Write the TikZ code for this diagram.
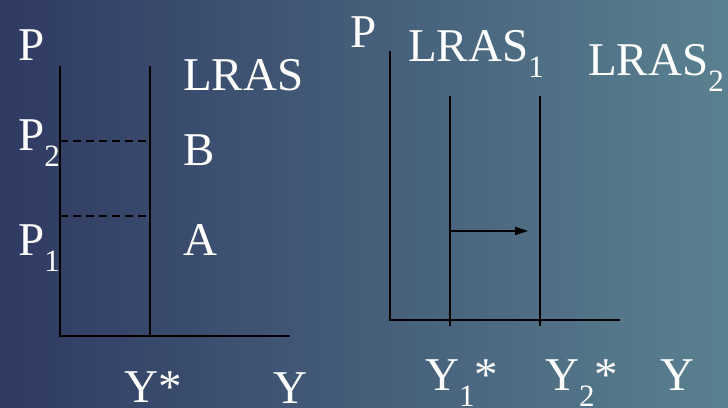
\documentclass[tikz,border=0pt]{standalone}
\usepackage{fontspec}
\setmainfont{Liberation Serif}
\newfontfamily\timesfont{Liberation Serif}
\usetikzlibrary{arrows.meta}

\definecolor{bgleft}{HTML}{2F3A62}
\definecolor{bgright}{HTML}{5A8190}
\newcommand{\lowidx}[1]{\raisebox{-0.36em}{\fontsize{31}{31}\selectfont #1}}

\tikzset{
  lbl/.style={anchor=base west, inner sep=0pt, text=white, font=\timesfont\fontsize{47}{50}\selectfont},
  axis/.style={line width=2.2pt, black},
  guide/.style={line width=1.8pt, black, dash pattern=on 8pt off 5pt}
}

\begin{document}
\begin{tikzpicture}[x=1pt,y=-1pt]
\shade[left color=bgleft, right color=bgright] (0,0) rectangle (728,407);
\useasboundingbox (0,0) rectangle (728,407);

% left panel
\coordinate (ytop1) at (60,66);
\coordinate (o1) at (60,336);
\coordinate (xend1) at (290,336);
\coordinate (lrtop) at (150,66);
\coordinate (lrbot) at (150,336);
\coordinate (p2a) at (60,141);
\coordinate (p2b) at (150,141);
\coordinate (p1a) at (60,216);
\coordinate (p1b) at (150,216);
\draw[axis] (ytop1) -- (o1) -- (xend1);
\draw[axis] (lrtop) -- (lrbot);
\draw[guide] (p2a) -- (p2b);
\draw[guide] (p1a) -- (p1b);
\node[lbl] (pl) at (18,60) {P};
\node[lbl] (lras) at (183,90) {LRAS};
\node[lbl] (ptwo) at (18,150) {P\lowidx{2}};
\node[lbl] (b) at (183,165) {B};
\node[lbl] (pone) at (18,255) {P\lowidx{1}};
\node[lbl] (a) at (183,255) {A};
\node[lbl] (ystar) at (124,402) {Y*};
\node[lbl] (yl) at (273,403) {Y};

% right panel
\coordinate (ytop2) at (390,51);
\coordinate (o2) at (390,320);
\coordinate (xend2) at (620,320);
\coordinate (l1top) at (450,96);
\coordinate (l1bot) at (450,326);
\coordinate (l2top) at (540,96);
\coordinate (l2bot) at (540,326);
\coordinate (shfrom) at (450,231);
\coordinate (shto) at (528,231);
\draw[axis] (ytop2) -- (o2) -- (xend2);
\draw[axis] (l1top) -- (l1bot);
\draw[axis] (l2top) -- (l2bot);
\draw[line width=1.8pt, -{Triangle[length=13pt,width=8pt]}] (shfrom) -- (shto);
\node[lbl] (pr) at (350,47) {P};
\node[lbl] (lrasone) at (408,61) {LRAS\lowidx{1}};
\node[lbl] (lrastwo) at (588,75) {LRAS\lowidx{2}};
\node[lbl] (yone) at (425,390) {Y\lowidx{1}*};
\node[lbl] (ytwo) at (545,390) {Y\lowidx{2}*};
\node[lbl] (yr) at (660,390) {Y};
\end{tikzpicture}
\end{document}
